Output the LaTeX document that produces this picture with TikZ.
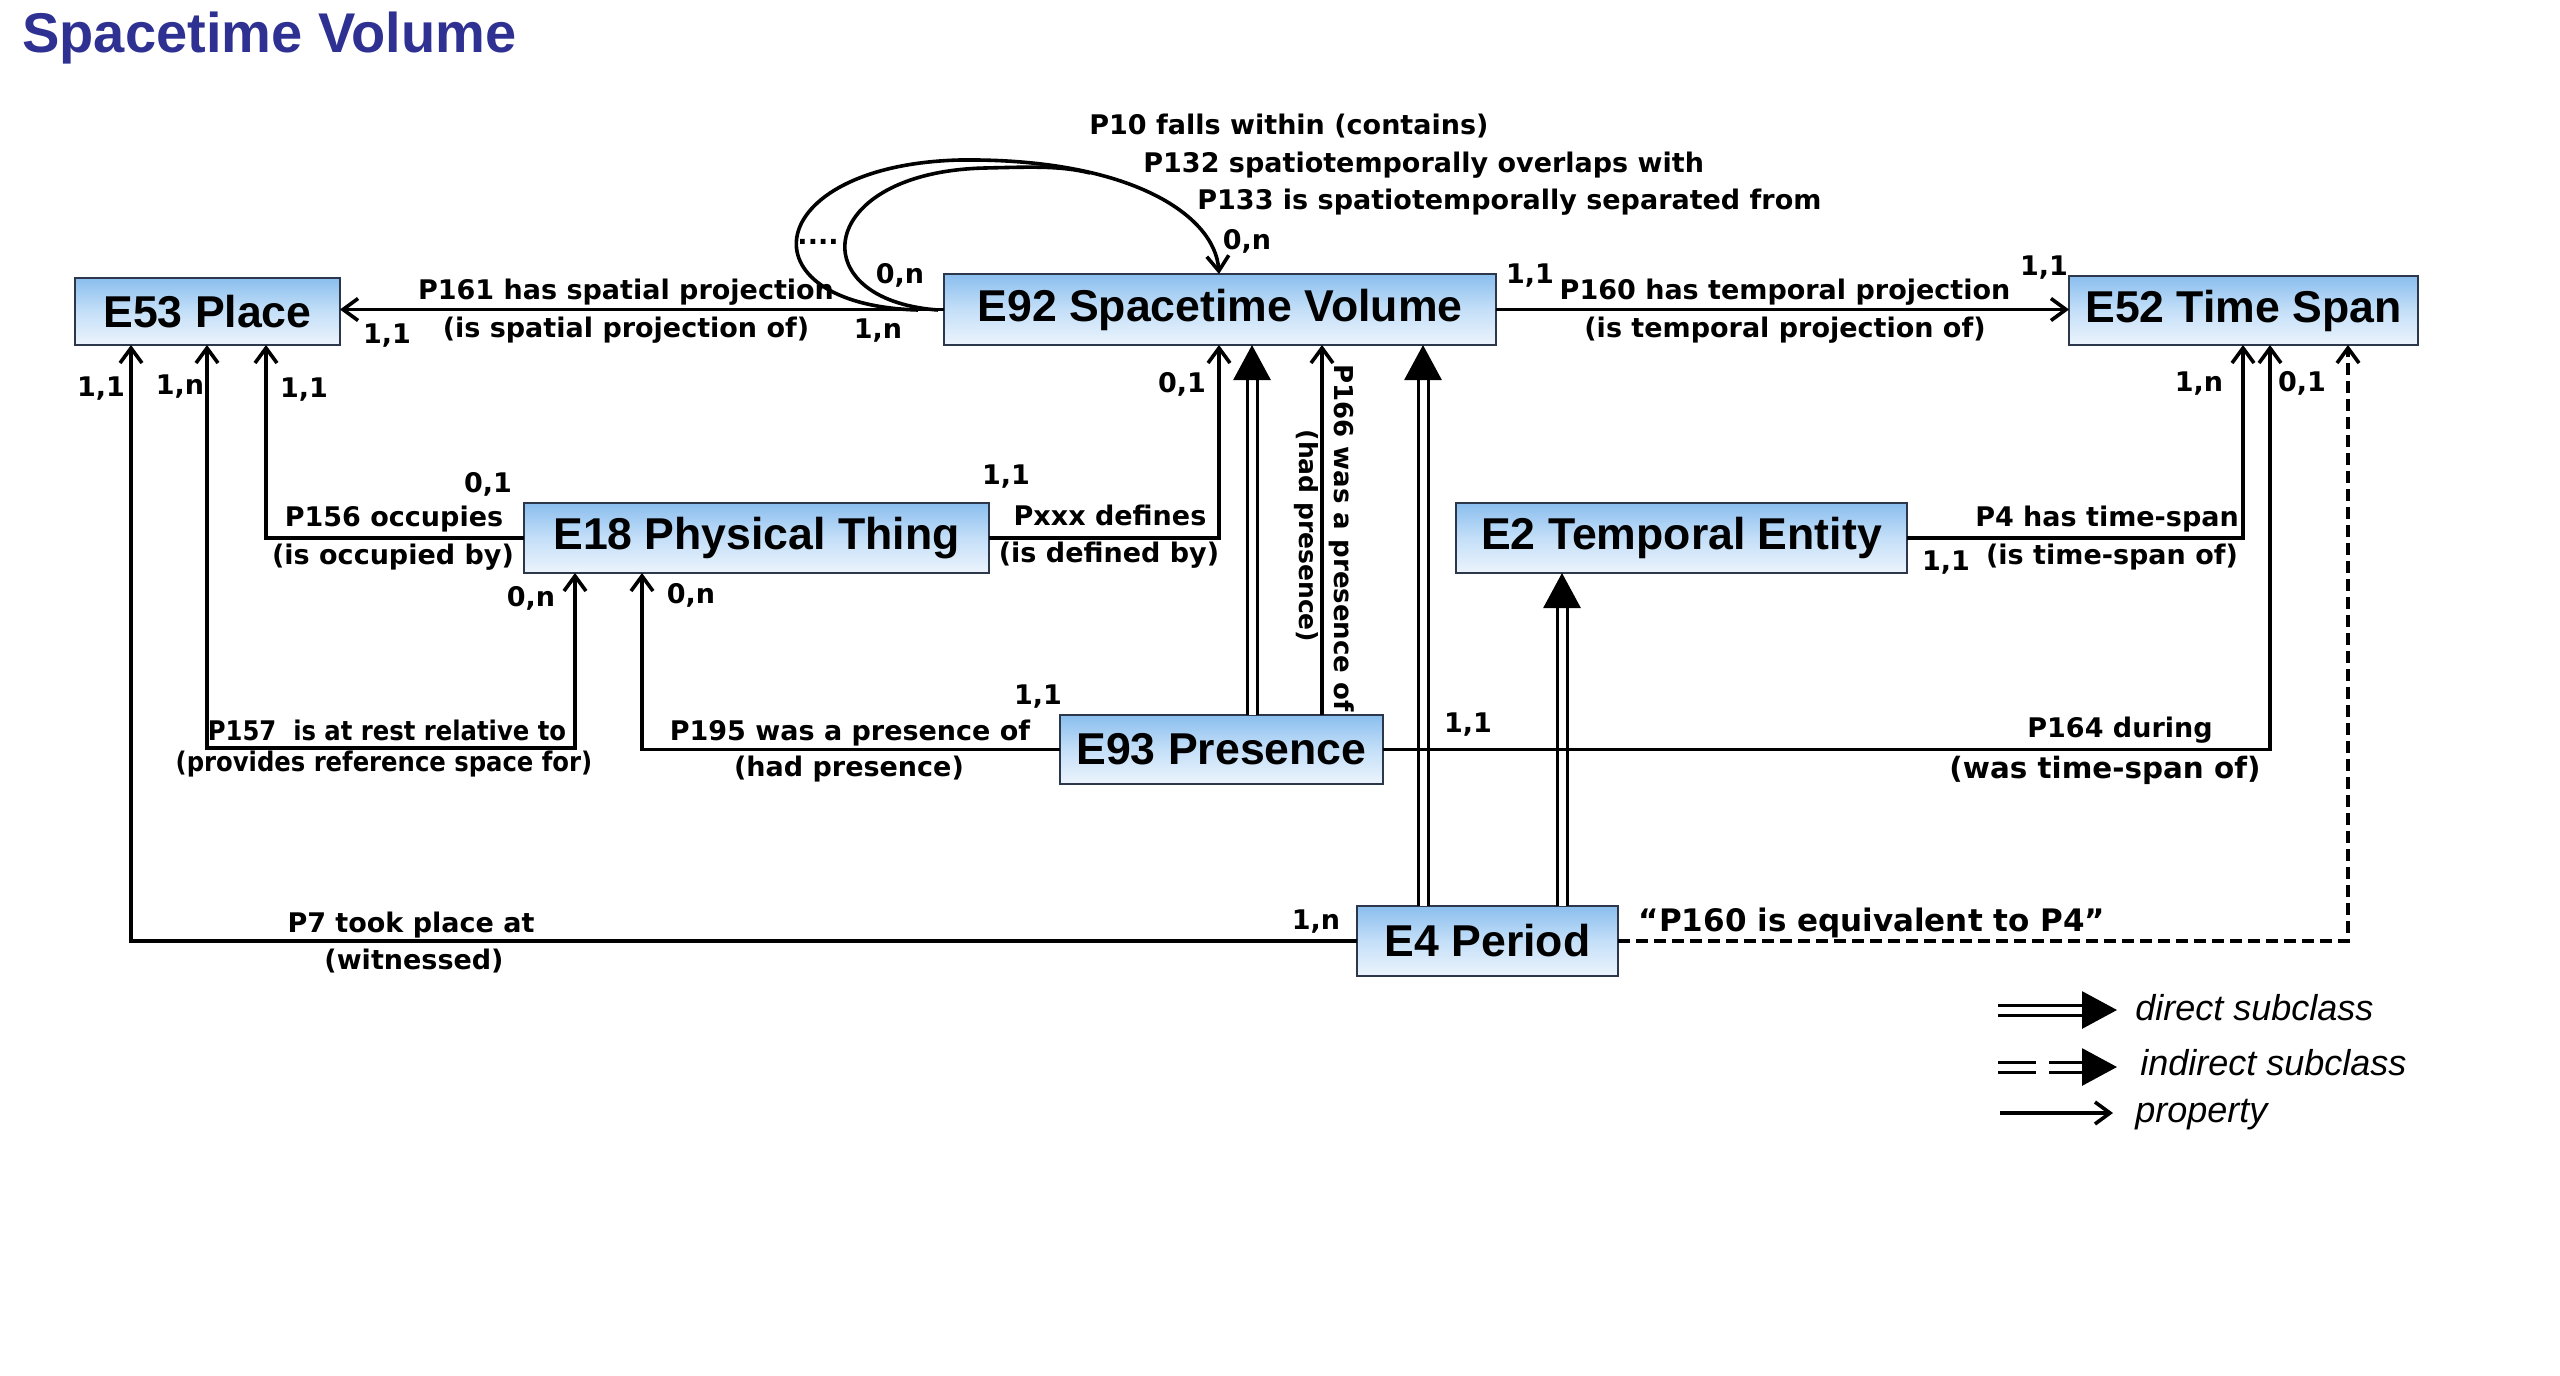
\documentclass[tikz,border=0pt]{standalone}
\usepackage{fontspec}
\setmainfont{Liberation Sans}
\newfontfamily\lblfont{DejaVu Sans}
\newfontfamily\lblcfont{DejaVu Sans Condensed}
\usetikzlibrary{arrows.meta,calc}
\definecolor{boxblue}{RGB}{138,190,238}
\definecolor{boxmid}{RGB}{196,223,248}
\definecolor{boxbot}{RGB}{236,244,252}
\definecolor{boxline}{RGB}{45,55,75}
\definecolor{titleblue}{RGB}{46,49,146}
\tikzset{
  cls/.style={draw=boxline, line width=1.2pt, top color=boxblue, bottom color=boxbot, middle color=boxmid,
    inner sep=0pt, outer sep=0pt, font=\bfseries\fontsize{22.3}{27}\selectfont, text=black},
  lbl/.style={font=\lblfont\bfseries\fontsize{13.5}{16}\selectfont, inner sep=0pt, text height=10pt, text depth=3pt},
  lblc/.style={lbl, font=\lblcfont\bfseries\fontsize{13.5}{16}\selectfont},
  leg/.style={font=\itshape\fontsize{18}{22}\selectfont, inner sep=0pt},
  prop/.style={line width=1.8pt, -{Straight Barb[length=7.5pt,width=11pt]}},
  biprop/.style={line width=1.8pt, {Straight Barb[length=7.5pt,width=11pt]}-{Straight Barb[length=7.5pt,width=11pt]}},
  dprop/.style={prop, dash pattern=on 6pt off 3pt},
  subcls/.style={double, double distance=3.5pt, line width=1.5pt, -{Triangle[length=17.5pt,width=18.5pt]}},
  loopline/.style={line width=1.8pt}
}
\begin{document}
\begin{tikzpicture}[x=0.5pt,y=-0.5pt]
\useasboundingbox (0,0) rectangle (2560,1376);
\fill[white] (0,0) rectangle (2560,1376);

\node[anchor=base west, font=\bfseries\fontsize{28}{32}\selectfont, text=titleblue, inner sep=0pt] (title) at (22,52) {Spacetime Volume};

% classes
\node[cls, minimum width=132.5pt, minimum height=33.5pt] (e53) at (207.5,311.5) {E53 Place};
\node[cls, minimum width=276pt, minimum height=35.5pt] (e92) at (1220,309.5) {E92 Spacetime Volume};
\node[cls, minimum width=174.5pt, minimum height=34.5pt] (e52) at (2243.5,310.5) {E52 Time Span};
\node[cls, minimum width=232.5pt, minimum height=35pt] (e18) at (756.5,538) {E18 Physical Thing};
\node[cls, minimum width=225.5pt, minimum height=35pt] (e2) at (1681.5,538) {E2 Temporal Entity};
\node[cls, minimum width=161.5pt, minimum height=34.5pt] (e93) at (1221.5,749.5) {E93 Presence};
\node[cls, minimum width=130.5pt, minimum height=35pt] (e4) at (1487.5,941) {E4 Period};

% helper coordinates
\coordinate (x7) at (131,0);
\coordinate (x157) at (207,0);
\coordinate (x156) at (266,0);
\coordinate (x157b) at (575,0);
\coordinate (x195) at (642,0);
\coordinate (xdef) at (1219,0);
\coordinate (xsub1) at (1252,0);
\coordinate (x166) at (1322,0);
\coordinate (xsub2) at (1423,0);
\coordinate (xsub3) at (1562,0);
\coordinate (x4) at (2243,0);
\coordinate (x164) at (2270,0);
\coordinate (xdash) at (2348,0);
\coordinate (y157) at (0,748);

% subclass links
\draw[subcls] (e93.north -| xsub1) -- (e92.south -| xsub1);
\draw[subcls] (e4.north -| xsub2) -- (e92.south -| xsub2);
\draw[subcls] (e4.north -| xsub3) -- (e2.south -| xsub3);

% properties
\draw[prop] (e92.west) -- (e92.west -| e53.east);
\draw[prop] (e92.east) -- (e92.east -| e52.west);
\draw[prop] (e18.west) -| (e53.south -| x156);
\draw[biprop] (e53.south -| x157) -- (y157 -| x157) -- (y157 -| x157b) -- (e18.south -| x157b);
\draw[prop] (e4.west) -| (e53.south -| x7);
\draw[prop] (e93.west) -| (e18.south -| x195);
\draw[prop] (e18.east) -| (e92.south -| xdef);
\draw[prop] (e93.north -| x166) -- (e92.south -| x166);
\draw[prop] (e2.east) -| (e52.south -| x4);
\draw[prop] (e93.east) -| (e52.south -| x164);
\draw[dprop] (e4.east) -| (e52.south -| xdash);

% self loops
\coordinate (lpA) at (918,310);
\coordinate (lpB) at (938,310);
\coordinate (lpM) at (1090,173);
\draw[prop] (lpA) .. controls (740,305) and (760,165) .. (960,160) .. controls (1130,158) and (1215,215) .. (e92.north -| xdef);
\draw[loopline] (lpB) .. controls (800,300) and (815,172) .. (985,168) .. controls (1030,167) and (1060,165.5) .. (lpM);

% labels
\node[lbl] (l161a) at (626,292) {P161 has spatial projection};
\node[lbl] (l161b) at (626,330) {(is spatial projection of)};
\node[lbl] (c161a) at (387,336) {1,1};
\node[lbl] (c161b) at (878,331) {1,n};
\node[lbl] (cl1) at (900,276) {0,n};
\node[lbl] (dots) at (818,237) {....};
\node[lbl, anchor=west] (l10) at (1089,127) {P10 falls within (contains)};
\node[lbl, anchor=west] (l132) at (1143,165) {P132 spatiotemporally overlaps with};
\node[lbl, anchor=west] (l133) at (1197,202) {P133 is spatiotemporally separated from};
\node[lbl] (cl2) at (1247,242) {0,n};
\node[lbl] (c160a) at (1530,276) {1,1};
\node[lbl] (l160a) at (1785,292) {P160 has temporal projection};
\node[lbl] (l160b) at (1785,330) {(is temporal projection of)};
\node[lbl] (c160b) at (2044,268) {1,1};
\node[lbl] (c7a) at (101,389) {1,1};
\node[lbl] (c157a) at (180,387) {1,n};
\node[lbl] (c156a) at (304,390) {1,1};
\node[lbl] (c156b) at (488,485) {0,1};
\node[lbl] (l156a) at (394,519) {P156 occupies};
\node[lbl] (l156b) at (393,557) {(is occupied by)};
\node[lbl] (cdefa) at (1006,477) {1,1};
\node[lbl] (ldefa) at (1110,518) {Pxxx defines};
\node[lbl] (ldefb) at (1109,555) {(is defined by)};
\node[lbl] (cdefb) at (1182,385) {0,1};
\node[lbl] (c157b) at (531,599) {0,n};
\node[lbl] (c195b) at (691,596) {0,n};
\node[lblc] (l157a) at (387,733) {P157\ \ is at rest relative to};
\node[lblc] (l157b) at (384,764) {(provides reference space for)};
\node[lbl] (l195a) at (850,733) {P195 was a presence of};
\node[lbl] (l195b) at (849,769) {(had presence)};
\node[lbl] (c195a) at (1038,697) {1,1};
\node[lbl, rotate=-90, font=\lblfont\bfseries\fontsize{13}{16}\selectfont] (l166a) at (1341,538) {P166 was a presence of};
\node[lbl, rotate=-90, font=\lblfont\bfseries\fontsize{12.5}{15}\selectfont] (l166b) at (1306,536) {(had presence)};
\node[lbl] (c164a) at (1468,725) {1,1};
\node[lbl] (l4a) at (2107,519) {P4 has time-span};
\node[lbl] (l4b) at (2112,557) {(is time-span of)};
\node[lbl] (c4a) at (1946,563) {1,1};
\node[lbl] (c4b) at (2199,384) {1,n};
\node[lbl] (c164b) at (2302,384) {0,1};
\node[lbl] (l164a) at (2120,730) {P164 during};
\node[lbl, font=\lblfont\bfseries\fontsize{14.7}{17}\selectfont] (l164b) at (2105,771) {(was time-span of)};
\node[lbl] (l7a) at (411,925) {P7 took place at};
\node[lbl] (l7b) at (414,962) {(witnessed)};
\node[lbl] (c7b) at (1316,922) {1,n};
\node[lbl, font=\lblfont\bfseries\fontsize{15.5}{18}\selectfont] (leq) at (1872,924) {“P160 is equivalent to P4”};

% legend
\coordinate (lg1a) at (1998,1010); \coordinate (lg1b) at (2117,1010);
\coordinate (lg2a) at (1998,1067); \coordinate (lg2b) at (2117,1067);
\coordinate (lg3a) at (2000,1113); \coordinate (lg3b) at (2113,1113);
\draw[subcls] (lg1a) -- (lg1b);
\draw[subcls, dash pattern=on 19pt off 6.5pt] (lg2a) -- (lg2b);
\draw[prop] (lg3a) -- (lg3b);
\node[leg, anchor=base west] (lgt1) at (2135,1020) {direct subclass};
\node[leg, anchor=base west] (lgt2) at (2140,1075) {indirect subclass};
\node[leg, anchor=base west] (lgt3) at (2135,1122) {property};
\end{tikzpicture}
\end{document}
